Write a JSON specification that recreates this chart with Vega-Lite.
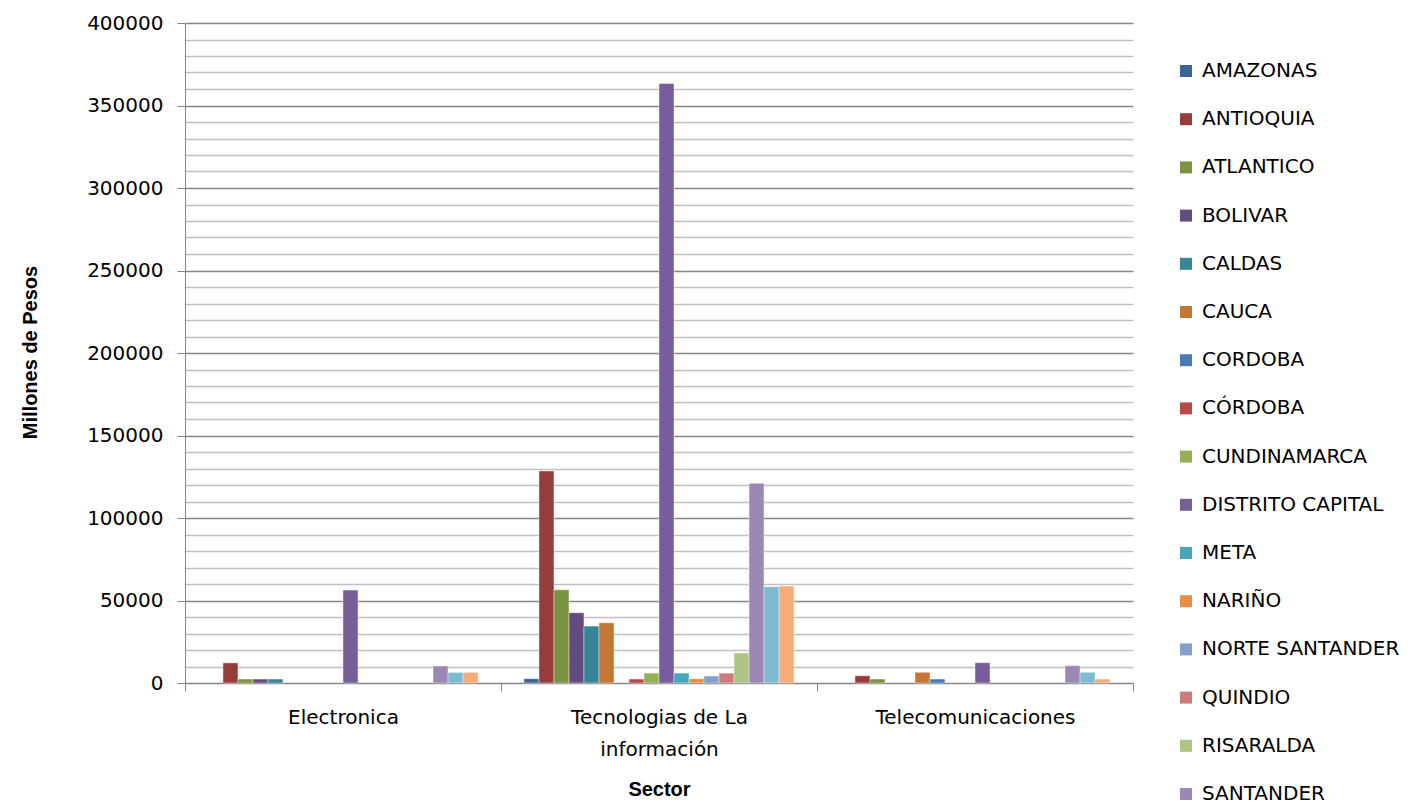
{
  "$schema": "https://vega.github.io/schema/vega-lite/v6.json",
  "width": 948,
  "height": 660,
  "autosize": {"type": "none"},
  "padding": {"left": 185, "top": 23, "right": 283, "bottom": 120},
  "background": "white",
  "data": {
    "values": [
      {"Sector": "Electronica", "Departamento": "ANTIOQUIA", "Valor": 12200},
      {"Sector": "Electronica", "Departamento": "ATLANTICO", "Valor": 2400},
      {"Sector": "Electronica", "Departamento": "BOLIVAR", "Valor": 2400},
      {"Sector": "Electronica", "Departamento": "CALDAS", "Valor": 2400},
      {"Sector": "Electronica", "Departamento": "DISTRITO CAPITAL", "Valor": 56300},
      {"Sector": "Electronica", "Departamento": "SANTANDER", "Valor": 10300},
      {"Sector": "Electronica", "Departamento": "TOLIMA", "Valor": 6400},
      {"Sector": "Electronica", "Departamento": "VALLE DEL CAUCA", "Valor": 6400},
      {"Sector": "Tecnologias de La información", "Departamento": "AMAZONAS", "Valor": 2600},
      {"Sector": "Tecnologias de La información", "Departamento": "ANTIOQUIA", "Valor": 128500},
      {"Sector": "Tecnologias de La información", "Departamento": "ATLANTICO", "Valor": 56500},
      {"Sector": "Tecnologias de La información", "Departamento": "BOLIVAR", "Valor": 42600},
      {"Sector": "Tecnologias de La información", "Departamento": "CALDAS", "Valor": 34500},
      {"Sector": "Tecnologias de La información", "Departamento": "CAUCA", "Valor": 36500},
      {"Sector": "Tecnologias de La información", "Departamento": "CÓRDOBA", "Valor": 2400},
      {"Sector": "Tecnologias de La información", "Departamento": "CUNDINAMARCA", "Valor": 6000},
      {"Sector": "Tecnologias de La información", "Departamento": "DISTRITO CAPITAL", "Valor": 363300},
      {"Sector": "Tecnologias de La información", "Departamento": "META", "Valor": 6000},
      {"Sector": "Tecnologias de La información", "Departamento": "NARIÑO", "Valor": 2600},
      {"Sector": "Tecnologias de La información", "Departamento": "NORTE SANTANDER", "Valor": 4200},
      {"Sector": "Tecnologias de La información", "Departamento": "QUINDIO", "Valor": 6000},
      {"Sector": "Tecnologias de La información", "Departamento": "RISARALDA", "Valor": 18200},
      {"Sector": "Tecnologias de La información", "Departamento": "SANTANDER", "Valor": 121000},
      {"Sector": "Tecnologias de La información", "Departamento": "TOLIMA", "Valor": 58400},
      {"Sector": "Tecnologias de La información", "Departamento": "VALLE DEL CAUCA", "Valor": 58800},
      {"Sector": "Telecomunicaciones", "Departamento": "ANTIOQUIA", "Valor": 4400},
      {"Sector": "Telecomunicaciones", "Departamento": "ATLANTICO", "Valor": 2400},
      {"Sector": "Telecomunicaciones", "Departamento": "CAUCA", "Valor": 6500},
      {"Sector": "Telecomunicaciones", "Departamento": "CORDOBA", "Valor": 2400},
      {"Sector": "Telecomunicaciones", "Departamento": "DISTRITO CAPITAL", "Valor": 12300},
      {"Sector": "Telecomunicaciones", "Departamento": "SANTANDER", "Valor": 10500},
      {"Sector": "Telecomunicaciones", "Departamento": "TOLIMA", "Valor": 6500},
      {"Sector": "Telecomunicaciones", "Departamento": "VALLE DEL CAUCA", "Valor": 2400}
    ]
  },
  "mark": {"type": "bar", "stroke": "white", "strokeWidth": 0.6, "strokeOpacity": 0.7},
  "encoding": {
    "x": {
      "field": "Sector",
      "type": "nominal",
      "scale": {"paddingInner": 0, "paddingOuter": 0},
      "axis": {
        "title": "Sector",
        "titleFont": "Liberation Sans",
        "titleFontSize": 20,
        "titleFontWeight": "bold",
        "titleColor": "black",
        "titleY": 106,
        "titleBaseline": "middle",
        "labelAngle": 0,
        "labelFont": "DejaVu Sans",
        "labelFontSize": 20,
        "labelColor": "black",
        "labelPadding": 16,
        "labelLineHeight": 32,
        "labelLimit": 400,
        "labelExpr": "datum.value == 'Tecnologias de La información' ? ['Tecnologias de La', 'información'] : datum.label",
        "tickBand": "extent",
        "tickSize": 8,
        "tickColor": "#868686",
        "domainColor": "#868686",
        "grid": false
      }
    },
    "xOffset": {
      "field": "Departamento",
      "type": "nominal",
      "scale": {
        "domain": ["_pad1", "AMAZONAS", "ANTIOQUIA", "ATLANTICO", "BOLIVAR", "CALDAS", "CAUCA", "CORDOBA", "CÓRDOBA", "CUNDINAMARCA", "DISTRITO CAPITAL", "META", "NARIÑO", "NORTE SANTANDER", "QUINDIO", "RISARALDA", "SANTANDER", "TOLIMA", "VALLE DEL CAUCA", "_pad2"],
        "paddingInner": 0,
        "paddingOuter": 0.53
      }
    },
    "y": {
      "field": "Valor",
      "type": "quantitative",
      "scale": {"domain": [0, 400000], "nice": false},
      "axis": {
        "title": "Millones de Pesos",
        "titleFont": "Liberation Sans",
        "titleFontSize": 20,
        "titleFontWeight": "bold",
        "titleColor": "black",
        "titleX": -155,
        "titleY": 329,
        "titleAlign": "center",
        "titleBaseline": "middle",
        "titleAngle": -90,
        "values": [0, 10000, 20000, 30000, 40000, 50000, 60000, 70000, 80000, 90000, 100000, 110000, 120000, 130000, 140000, 150000, 160000, 170000, 180000, 190000, 200000, 210000, 220000, 230000, 240000, 250000, 260000, 270000, 280000, 290000, 300000, 310000, 320000, 330000, 340000, 350000, 360000, 370000, 380000, 390000, 400000],
        "labelExpr": "datum.value % 50000 === 0 ? format(datum.value, 'd') : ''",
        "labelFont": "DejaVu Sans",
        "labelFontSize": 20,
        "labelColor": "black",
        "labelPadding": 14,
        "labelOverlap": false,
        "tickSize": {"condition": {"test": "datum.value % 50000 === 0", "value": 8}, "value": 0},
        "tickColor": "#868686",
        "domainColor": "#868686",
        "grid": true,
        "gridColor": {"condition": {"test": "datum.value % 50000 === 0", "value": "#868686"}, "value": "#c0c0c0"},
        "gridWidth": 1.3
      }
    },
    "color": {
      "field": "Departamento",
      "type": "nominal",
      "scale": {
        "domain": ["AMAZONAS", "ANTIOQUIA", "ATLANTICO", "BOLIVAR", "CALDAS", "CAUCA", "CORDOBA", "CÓRDOBA", "CUNDINAMARCA", "DISTRITO CAPITAL", "META", "NARIÑO", "NORTE SANTANDER", "QUINDIO", "RISARALDA", "SANTANDER", "TOLIMA", "VALLE DEL CAUCA"],
        "range": ["#3c6496", "#963c3a", "#7a9442", "#644c7e", "#378596", "#c47634", "#4a7ab4", "#b84a48", "#93b054", "#775d9a", "#47a5bd", "#e88e44", "#84a0cc", "#cc7c7a", "#adc484", "#9b88b4", "#7fbad0", "#f7ac78"]
      },
      "legend": {
        "title": null,
        "orient": "none",
        "legendX": 991,
        "legendY": 38,
        "padding": 0,
        "symbolType": "square",
        "symbolSize": 144,
        "symbolStrokeWidth": 0,
        "labelFont": "DejaVu Sans",
        "labelFontSize": 20,
        "labelColor": "black",
        "labelOffset": 6,
        "rowPadding": 28.2,
        "labelLimit": 400
      }
    }
  },
  "config": {"view": {"stroke": null}}
}
